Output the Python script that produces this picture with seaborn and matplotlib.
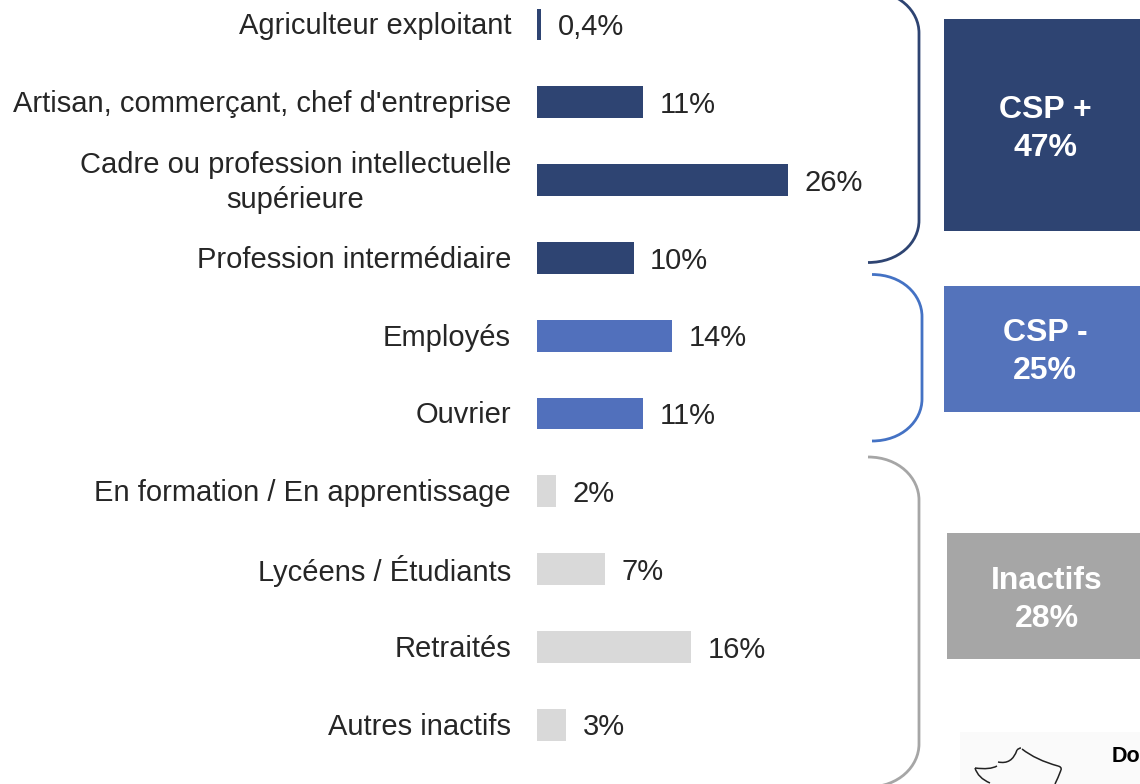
import matplotlib
matplotlib.use("Agg")
import matplotlib.pyplot as plt
import pandas as pd
import seaborn as sns
from matplotlib.patches import PathPatch, Rectangle
from matplotlib.path import Path
from matplotlib.transforms import ScaledTranslation

categories = [
    "Agriculteur exploitant",
    "Artisan, commerçant, chef d'entreprise",
    "Cadre ou profession intellectuelle\nsupérieure",
    "Profession intermédiaire",
    "Employés",
    "Ouvrier",
    "En formation / En apprentissage",
    "Lycéens / Étudiants",
    "Retraités",
    "Autres inactifs",
]
values = [0.4, 11, 26, 10, 14, 11, 2, 7, 16, 3]
value_labels = ["0,4%", "11%", "26%", "10%", "14%", "11%", "2%", "7%", "16%", "3%"]
bar_colors = ["#2E4472"] * 4 + ["#5170BC"] * 2 + ["#D9D9D9"] * 4

NAVY = "#2E4472"
BLUE = "#5473BB"
GREY = "#A6A6A6"
W, H = 1140, 784
TEXT = "#262626"

sns.set_theme(style="white")
plt.rcParams["font.family"] = ["Liberation Sans", "DejaVu Sans"]

fig = plt.figure(figsize=(W / 100, H / 100), dpi=100)
# bars axes runs from the baseline to the right edge, full height
ax = fig.add_axes([537 / W, 0, (W - 537) / W, 1])
df = pd.DataFrame({"cat": categories, "val": values})
sns.barplot(
    data=df,
    x="val",
    y="cat",
    hue="cat",
    palette=bar_colors,
    width=0.411,
    legend=False,
    saturation=1,
    linewidth=0,
    ax=ax,
)
ax.set_xlim(0, (W - 537) / 9.65)
ax.set_ylim((H - 24.5) / 77.8, -24.5 / 77.8)
ax.set(xlabel=None, ylabel=None)
ax.set_xticks([])
sns.despine(ax=ax, left=True, bottom=True)
ax.tick_params(axis="y", length=0, pad=18.7)
for label in ax.get_yticklabels():
    label.set_fontsize(21)
    label.set_color(TEXT)
    label.set_multialignment("center")
    label.set_linespacing(1.33)
    # the two line label sits higher than the others
    shift = 3 if "\n" in label.get_text() else 0.8
    label.set_transform(label.get_transform() + ScaledTranslation(0, shift / 72, fig.dpi_scale_trans))
for container, label in zip(ax.containers, value_labels):
    for txt in ax.bar_label(container, labels=[label], padding=12, fontsize=21, color=TEXT):
        txt.set_va("center")
        txt.xyann = (12, -2)

# overlay in pixel coordinates for the brackets and boxes
deco = fig.add_axes([0, 0, 1, 1])
deco.set_xlim(0, W)
deco.set_ylim(H, 0)
deco.axis("off")
deco.patch.set_alpha(0)


def bracket(x0, x1, y0, y1, r, color):
    verts = [
        (x0, y0),
        (x1 - 20, y0),
        (x1, y0 + r - 22),
        (x1, y0 + r),
        (x1, y1 - r),
        (x1, y1 - r + 22),
        (x1 - 20, y1),
        (x0, y1),
    ]
    codes = [Path.MOVETO, Path.CURVE4, Path.CURVE4, Path.CURVE4, Path.LINETO,
             Path.CURVE4, Path.CURVE4, Path.CURVE4]
    deco.add_patch(PathPatch(Path(verts, codes), fc="none", ec=color, lw=2))


bracket(868, 919, -9, 262.5, 42, NAVY)
bracket(872, 922, 274.5, 441, 42, "#4472C4")
bracket(868, 919, 457, 787, 43, GREY)

boxes = [
    (944, 19, 212, NAVY, "CSP +\n47%", 1045, 129),
    (944, 286, 126, BLUE, "CSP -\n25%", 1045, 352),
    (947, 533, 126, GREY, "Inactifs\n28%", 1047, 600),
]
for x, y, h, color, txt, tx, ty in boxes:
    deco.add_patch(Rectangle((x, y), W - x, h, fc=color, ec="none"))
    deco.text(tx, ty, txt, color="white", fontsize=23, fontweight="bold",
              ha="center", va="center", linespacing=1.38)

# map panel cut by the lower right corner
deco.add_patch(Rectangle((960, 732), W - 960, H - 732, fc="#FAFAFA", ec="none"))
outline = [
    ((990, 783), (978, 778), (975, 768)),
    ((975, 768), (990, 770), (997, 766)),
    ((998, 762), (1012, 765), (1017, 750)),
    ((1017, 750), (1019, 748), (1021, 748)),
    ((1022, 749), (1036, 760), (1058, 766)),
    ((1058, 766), (1062, 767), (1061, 770)),
    ((1061, 770), (1058, 778), (1055, 784)),
]
for a, b, c in outline:
    deco.add_patch(PathPatch(Path([a, b, c], [Path.MOVETO, Path.CURVE3, Path.CURVE3]),
                             fc="none", ec="#222222", lw=1.1))
deco.text(1112, 757, "Do", color="black", fontsize=15.5, fontweight="bold",
          ha="left", va="center")

fig.savefig("out.png", dpi=100)
